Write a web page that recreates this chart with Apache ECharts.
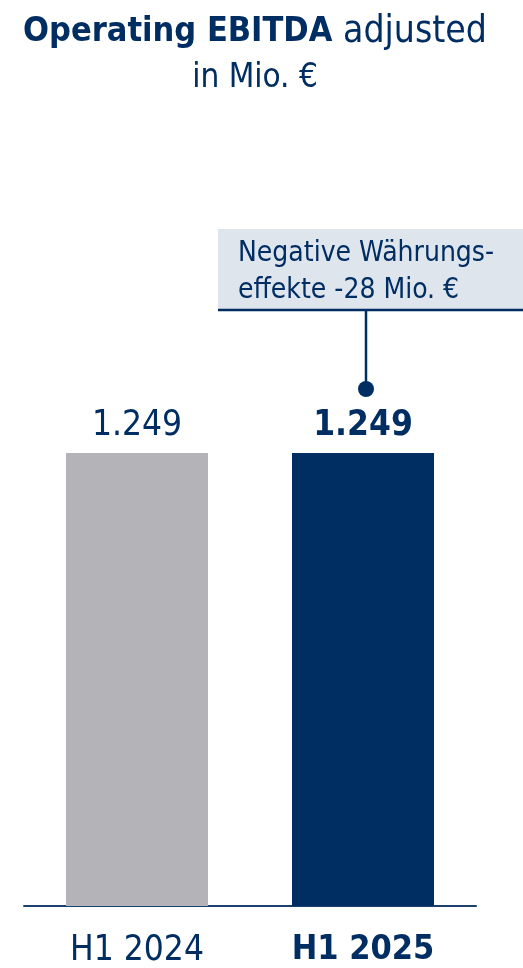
<!DOCTYPE html>
<html><head><meta charset="utf-8">
<script src="https://cdn.jsdelivr.net/npm/echarts@6/dist/echarts.min.js"></script>
<style>html,body{margin:0;padding:0;background:#fff}#c{width:523px;height:968px}</style>
</head><body><div id="c"></div>
<script>
const categories = ['H1 2024', 'H1 2025'];
const values = [1249, 1249];
const valueLabels = ['1.249', '1.249'];
const noteLines = ['Negative Währungs-', 'effekte -28 Mio. €'];

const FONT = '"DejaVu Sans Condensed", "Liberation Sans Narrow", Roboto, sans-serif';
const NAVY = '#002d62';
const GRAY = '#b4b3b8';

const chart = echarts.init(document.getElementById('c'), null, {renderer: 'canvas'});
chart.setOption({
  animation: false,
  title: {
    left: 250, top: 4, textAlign: 'center',
    text: '{b|Operating EBITDA}{n| adjusted}\n{s|in Mio. €}',
    textStyle: {
      rich: {
        b: {fontFamily: FONT, fontWeight: 'bold', fontSize: 34, color: NAVY, lineHeight: 46},
        n: {fontFamily: FONT, fontWeight: 'normal', fontSize: 37, color: NAVY, lineHeight: 46},
        s: {fontFamily: FONT, fontWeight: 'normal', fontSize: 33, color: NAVY, lineHeight: 46}
      }
    }
  },
  grid: {left: 24, right: 47, top: 180.6, bottom: 62, containLabel: false},
  xAxis: {
    type: 'category', data: categories,
    axisLine: {lineStyle: {color: '#1d3f6e', width: 2}},
    axisTick: {show: false},
    axisLabel: {
      interval: 0, margin: 27, fontFamily: FONT, fontSize: 35, color: NAVY,
      formatter: (v, i) => i === 1 ? '{b|' + v + '}' : '{n|' + v + '}',
      rich: {
        b: {fontFamily: FONT, fontSize: 34, fontWeight: 'bold', color: NAVY},
        n: {fontFamily: FONT, fontSize: 35, fontWeight: 'normal', color: NAVY}
      }
    }
  },
  yAxis: {type: 'value', min: 0, max: 2000, show: false, splitLine: {show: false}},
  series: [{
    type: 'bar', barWidth: 142,
    data: values.map((v, i) => ({
      value: v,
      itemStyle: {color: i === 0 ? GRAY : NAVY},
      label: {fontWeight: i === 1 ? 'bold' : 'normal'}
    })),
    label: {
      show: true, position: 'top', distance: 10,
      fontFamily: FONT, fontSize: 35, color: NAVY,
      formatter: p => valueLabels[p.dataIndex]
    }
  }]
});

// annotation attached to the second bar
const top2 = chart.convertToPixel({gridIndex: 0}, [1, values[1]]);
const dotX = top2[0] + 3, dotY = top2[1] - 64;
const boxLeft = 218, boxTop = 229, boxBottom = 310;
chart.setOption({
  graphic: [
    {type: 'rect', shape: {x: boxLeft, y: boxTop, width: 523 - boxLeft, height: boxBottom - boxTop},
     style: {fill: '#dfe5ed'}, z: 10},
    {type: 'line', shape: {x1: boxLeft, y1: boxBottom, x2: 523, y2: boxBottom},
     style: {stroke: NAVY, lineWidth: 2.5}, z: 11},
    {type: 'line', shape: {x1: dotX, y1: boxBottom, x2: dotX, y2: dotY},
     style: {stroke: NAVY, lineWidth: 2.5}, z: 11},
    {type: 'circle', shape: {cx: dotX, cy: dotY, r: 8}, style: {fill: NAVY}, z: 12},
    {type: 'text', left: 238, top: 235, z: 12,
     style: {text: noteLines.join('\n'), font: '28px ' + FONT, fill: NAVY, lineHeight: 37}}
  ]
});
</script></body></html>
